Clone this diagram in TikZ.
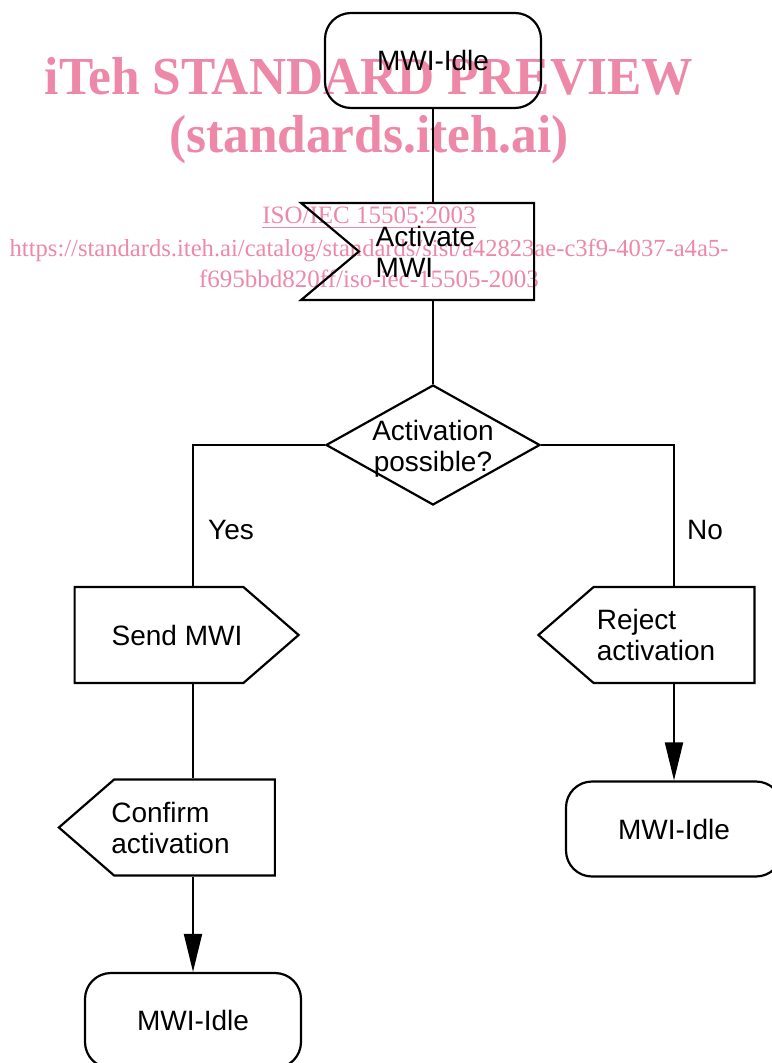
\documentclass[tikz,border=0pt]{standalone}
\usepackage{fontspec}
\setmainfont{Liberation Sans}
\newfontfamily\wmfont{Liberation Serif}
\usetikzlibrary{shapes.geometric,shapes.symbols,arrows.meta}
\definecolor{wmpink}{RGB}{238,136,168}
\tikzset{
  flowline/.style={line width=1pt},
  idlestate/.style={draw, line width=1.1pt, rounded corners=13pt, minimum width=108pt, minimum height=47.5pt, inner sep=0pt},
  sigin/.style={draw, line width=1.1pt, signal, signal from=west, signal to=nowhere, signal pointer angle=80, minimum width=116.5pt, minimum height=48.5pt, inner sep=0pt},
  sigout/.style={draw, line width=1.1pt, signal, signal pointer angle=82, minimum width=108pt, minimum height=48pt, inner sep=0pt},
  choice/.style={draw, line width=1.1pt, diamond, minimum width=107pt, minimum height=60pt, inner sep=0pt},
  tip/.style={-{Triangle[length=19pt,width=9pt]}},
  wmark/.style={text=wmpink, inner sep=0pt, anchor=base}
}
\begin{document}
\begin{tikzpicture}[x=0.5pt,y=-0.5pt]
                \useasboundingbox (0,0) rectangle (771,1063);
                % Watermark text
                {\wmfont
                \node[wmark, font=\wmfont\bfseries\fontsize{25.7}{25.7}\selectfont] (wmtitle) at (369,95) {\scalebox{1}[1.04]{iTeh STANDARD PREVIEW}};%
                \node[wmark, font=\wmfont\bfseries\fontsize{25.7}{25.7}\selectfont] (wmsite) at (369,153) {\scalebox{1}[1.04]{(standards.iteh.ai)}};%
                \node[wmark, font=\wmfont\fontsize{12.5}{12.5}\selectfont] (wmiso) at (369,224) {\underline{ISO/IEC 15505:2003}};%
                \node[wmark, font=\wmfont\fontsize{12.3}{12.3}\selectfont] (wmurla) at (369,257) {https://standards.iteh.ai/catalog/standards/sist/a42823ae-c3f9-4037-a4a5-};%
                \node[wmark, font=\wmfont\fontsize{12.5}{12.5}\selectfont] (wmurlb) at (369,288) {f695bbd820ff/iso-iec-15505-2003};%
                }
                {\fontsize{14}{15.5}\selectfont

                % Drawing state MWI-Idle (start)
                \node[idlestate] (idletop) at (433,60.5) {MWI-Idle};%

                % Drawing input Activate MWI
                \node[sigin, label={[align=left, xshift=-10.5pt]center:Activate\\MWI}] (activate) at (446.5,251.5) {};%

                % Drawing decision
                \node[choice, label={[align=center, yshift=-2pt]center:Activation\\possible?}] (possible) at (433,445) {};%

                % Drawing output Send MWI
                \node[sigout, minimum width=112pt, signal to=east, label={[xshift=9pt]center:Send MWI}] (sendmwi) at (159,635) {};%

                % Drawing output Reject activation
                \node[sigout, signal to=west, label={[align=left, xshift=-9pt]center:Reject\\activation}] (reject) at (674,635) {};%

                % Drawing output Confirm activation
                \node[sigout, signal to=west, label={[align=left, xshift=-12pt]center:Confirm\\activation}] (confirm) at (194.5,827.5) {};%

                % Drawing states MWI-Idle (end)
                \node[idlestate] (idleleft) at (193,1020.5) {MWI-Idle};%
                \node[idlestate] (idleright) at (674,829) {MWI-Idle};%

                % Drawing line idle -- activate -- decision
                \draw [flowline] (idletop.south) -- (idletop.south |- activate.north);%
                \draw [flowline] (idletop.south |- activate.south) -- (possible.north);%

                % Drawing branch Yes
                \draw [flowline] (possible.west) -| (sendmwi.north -| idleleft.north);%
                \draw [flowline] (sendmwi.south -| idleleft.north) -- (confirm.north -| idleleft.north);%
                \draw [flowline, tip] (confirm.south -| idleleft.north) -- (idleleft.north);%

                % Drawing branch No
                \draw [flowline] (possible.east) -| (reject.north -| idleright.north);%
                \draw [flowline, tip] (reject.south -| idleright.north) -- (idleright.north);%

                % Marking branch labels
                \node (yes) at (231,530) {Yes};%
                \node (no) at (705,530) {No};%
                }
\end{tikzpicture}
\end{document}
